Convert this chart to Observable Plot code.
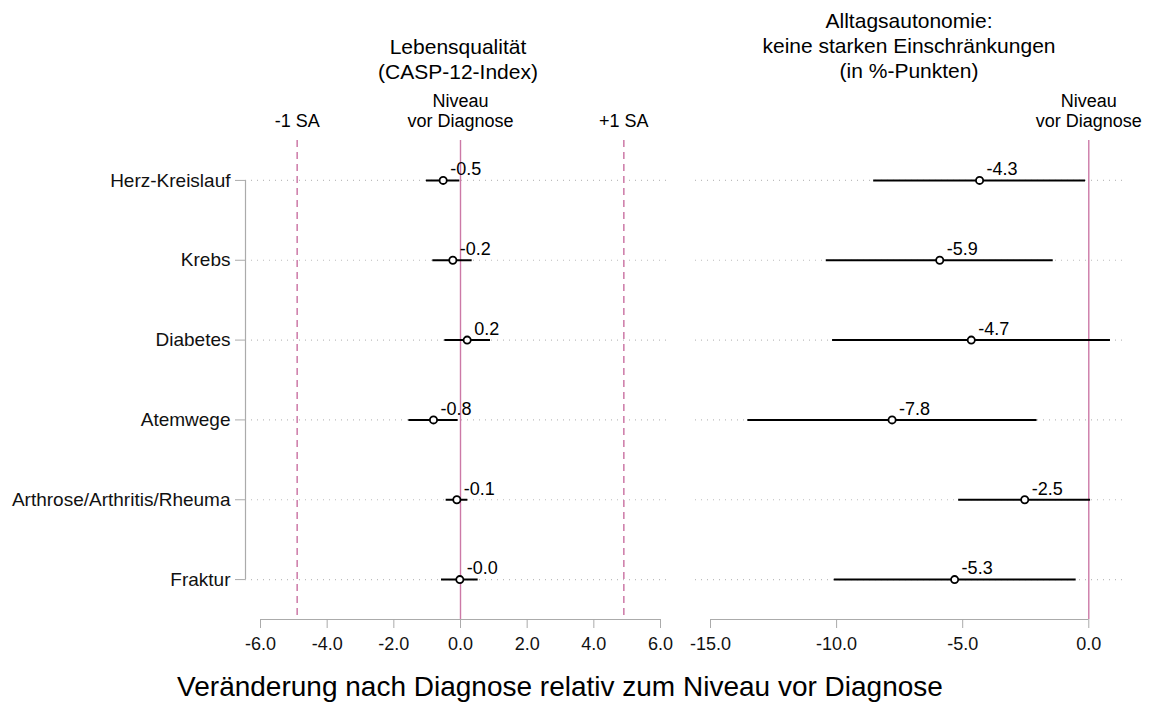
<!DOCTYPE html>
<html><head><meta charset="utf-8">
<script src="https://cdn.jsdelivr.net/npm/d3@7"></script>
<script src="https://cdn.jsdelivr.net/npm/@observablehq/plot@0.6"></script>
<style>
body{margin:0;background:#fff;}
#chart{position:relative;width:1153px;height:704px;font-family:"Liberation Sans",Arial,sans-serif;overflow:hidden;}
#chart svg{position:absolute;top:0;}
#xtitle{position:absolute;left:0;width:1120px;top:672px;line-height:30px;text-align:center;font-size:28px;color:#000;}
</style></head><body>
<div id="chart"><div id="xtitle"></div></div>
<script>
// ---- data ----
const categories = ["Herz-Kreislauf","Krebs","Diabetes","Atemwege","Arthrose/Arthritis/Rheuma","Fraktur"];
const lqEstimate = [-0.52,-0.23,0.20,-0.81,-0.11,-0.02];
const lqLow      = [-1.02,-0.83,-0.47,-1.55,-0.43,-0.57];
const lqHigh     = [-0.02, 0.35, 0.90,-0.07, 0.22, 0.53];
const autEstimate = [-4.33,-5.91,-4.66,-7.80,-2.54,-5.32];
const autLow      = [-8.53,-10.41,-10.16,-13.52,-5.16,-10.09];
const autHigh     = [-0.13,-1.41,0.86,-2.05,0.07,-0.50];
const sdLines = [-4.9, 4.9];
const sdLabels = ["-1 SA", "+1 SA"];
const baseline = [0];
const baselineLabel = "Niveau\nvor Diagnose";
const lqTicks = [-6,-4,-2,0,2,4,6];
const autTicks = [-15,-10,-5,0];
const lqTitle = "Lebensqualität\n(CASP-12-Index)";
const autTitle = "Alltagsautonomie:\nkeine starken Einschränkungen\n(in %-Punkten)";
const xTitle = "Veränderung nach Diagnose relativ zum Niveau vor Diagnose";

// ---- style ----
const pink = "#CC79A7";
const axisColor = "#ababab";
const gridColor = "#bdbdbd";
const font = '"Liberation Sans", Arial, sans-serif';
const lqDomain = [-6.45, 6.3];
const autDomain = [-15.595, 1.337];

const lqRows = categories.map((c,i)=>({i, cat:c, est:lqEstimate[i], lo:lqLow[i], hi:lqHigh[i]}));
const autRows = categories.map((c,i)=>({i, cat:c, est:autEstimate[i], lo:autLow[i], hi:autHigh[i]}));
const yDomain = [categories.length - 0.5, -0.5];

function gridMark(rows){
  return Plot.ruleY(rows, {y:"i", stroke:gridColor, strokeDasharray:"1,5", strokeWidth:1.1});
}
function estimateMarks(rows){
  return [
    Plot.ruleY(rows, {y:"i", x1:"lo", x2:"hi", stroke:"#000", strokeWidth:2}),
    Plot.dot(rows, {x:"est", y:"i", r:3.6, stroke:"#000", strokeWidth:1.8, fill:"#fff"}),
    Plot.text(rows, {x:"est", y:"i", text:d=>d.est.toFixed(1), textAnchor:"start", dx:7, dy:-11, fontSize:18, fill:"#000"})
  ];
}

const left = Plot.plot({
  width:685, height:704,
  marginLeft:245, marginRight:15, marginTop:140, marginBottom:85,
  x:{domain:lqDomain, label:null},
  y:{domain:yDomain, label:null},
  style:{fontFamily:font, fontSize:"18px", background:"transparent", overflow:"visible"},
  marks:[
    gridMark(lqRows),
    Plot.ruleX(sdLines, {stroke:pink, strokeDasharray:"7,5", strokeWidth:1.5}),
    Plot.ruleX(baseline, {stroke:pink, strokeWidth:1.4}),
    ...estimateMarks(lqRows),
    Plot.ruleX([lqDomain[0]], {y1:0, y2:categories.length-1, stroke:axisColor, strokeWidth:1.2}),
    Plot.ruleY([yDomain[0]], {x1:lqTicks[0], x2:lqTicks[lqTicks.length-1], stroke:axisColor, strokeWidth:1.2}),
    Plot.axisX(lqTicks, {tickSize:9, tickPadding:9, tickFormat:d=>d.toFixed(1), stroke:axisColor, fill:"#111", fontSize:18, label:null}),
    Plot.axisY(lqRows.map(d=>d.i), {tickSize:10, tickPadding:5, tickFormat:i=>categories[i], stroke:axisColor, fill:"#111", fontSize:19, label:null}),
    Plot.text(sdLines, {x:d=>d, text:(d,i)=>sdLabels[i], frameAnchor:"top", lineAnchor:"bottom", dy:-14, fontSize:18, fill:"#000"}),
    Plot.text(baseline, {x:d=>d, text:()=>baselineLabel, frameAnchor:"top", lineAnchor:"bottom", dy:-14, fontSize:18, lineHeight:1.1, fill:"#000"}),
    Plot.text([lqTitle], {text:d=>d, frameAnchor:"top", lineAnchor:"bottom", dy:-62, fontSize:21, lineHeight:1.19, fill:"#000"})
  ]
});
left.style.left = "0px";

const right = Plot.plot({
  width:468, height:704,
  marginLeft:10, marginRight:31, marginTop:140, marginBottom:85,
  x:{domain:autDomain, label:null},
  y:{domain:yDomain, label:null, axis:null},
  style:{fontFamily:font, fontSize:"18px", background:"transparent", overflow:"visible"},
  marks:[
    gridMark(autRows),
    Plot.ruleX(baseline, {stroke:pink, strokeWidth:1.4}),
    ...estimateMarks(autRows),
    Plot.ruleY([yDomain[0]], {x1:autTicks[0], x2:autTicks[autTicks.length-1], stroke:axisColor, strokeWidth:1.2}),
    Plot.axisX(autTicks, {tickSize:9, tickPadding:9, tickFormat:d=>d.toFixed(1), stroke:axisColor, fill:"#111", fontSize:18, label:null}),
    Plot.text(baseline, {x:d=>d, text:()=>baselineLabel, frameAnchor:"top", lineAnchor:"bottom", dy:-14, fontSize:18, lineHeight:1.1, fill:"#000"}),
    Plot.text([autTitle], {text:d=>d, frameAnchor:"top", lineAnchor:"bottom", dy:-63, fontSize:21, lineHeight:1.19, fill:"#000"})
  ]
});
right.style.left = "685px";

const chart = document.getElementById("chart");
chart.appendChild(left);
chart.appendChild(right);
document.getElementById("xtitle").textContent = xTitle;
</script>
</body></html>
